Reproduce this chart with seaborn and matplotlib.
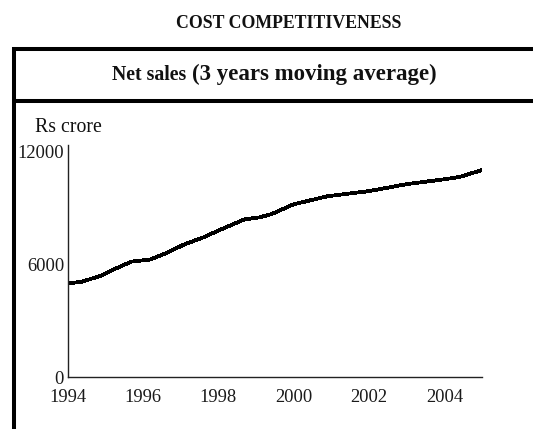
import matplotlib
matplotlib.use('Agg')
import matplotlib.pyplot as plt
import seaborn as sns
from matplotlib.lines import Line2D

# Net sales, 3 years moving average (Rs crore)
years = [1994.0, 1994.4, 1994.9, 1995.1, 1995.7, 1996.2, 1996.6, 1997.1,
         1997.6, 1998.2, 1998.7, 1999.1, 1999.4, 2000.0, 2000.9, 2002.0,
         2003.0, 2004.0, 2004.4, 2005.0]
net_sales = [4960, 5070, 5390, 5600, 6130, 6240, 6560, 7040,
             7410, 7950, 8370, 8480, 8640, 9170, 9600, 9870,
             10240, 10500, 10620, 10990]
x_ticks = [1994, 1996, 1998, 2000, 2002, 2004]
y_ticks = [0, 6000, 12000]

sns.set_style('white')
plt.rcParams['font.family'] = ['Liberation Serif', 'DejaVu Serif']

W, H = 533, 429
fig = plt.figure(figsize=(W / 100, H / 100), dpi=100)

def fx(px):
    return px / W

def fy(py):
    return 1 - py / H

# plot area
ax = fig.add_axes([fx(67.5), fy(377), fx(482) - fx(67.5), fy(145) - fy(377)])
sns.lineplot(x=years, y=net_sales, ax=ax, color='black', linewidth=2.0,
             antialiased=False)
ax.set_xlim(1994, 2005)
ax.set_ylim(0, 12320)
ax.set_xticks(x_ticks)
ax.set_yticks(y_ticks)
ax.set_xlabel('')
ax.set_ylabel('')
for s in ['top', 'right']:
    ax.spines[s].set_visible(False)
for s in ['left', 'bottom']:
    ax.spines[s].set_color('#222222')
    ax.spines[s].set_linewidth(1.0)
ax.tick_params(axis='x', length=0, pad=9, labelsize=13.3, colors='#1a1a1a')
ax.tick_params(axis='y', length=0, pad=2.5, labelsize=13.3, colors='#1a1a1a')

# box around the panel
lw = 2.9
fig.add_artist(Line2D([fx(14), fx(14)], [fy(47), fy(429)], color='black',
                      lw=lw, transform=fig.transFigure, solid_capstyle='butt'))
fig.add_artist(Line2D([fx(12), fx(533)], [fy(49), fy(49)], color='black',
                      lw=lw, transform=fig.transFigure, solid_capstyle='butt'))
fig.add_artist(Line2D([fx(12), fx(533)], [fy(100.5), fy(100.5)], color='black',
                      lw=lw, transform=fig.transFigure, solid_capstyle='butt'))

# texts
fig.text(fx(289), fy(28.5), 'COST COMPETITIVENESS', ha='center', va='baseline',
         fontsize=12.8, fontweight='bold', color='#111111')
fig.text(fx(186), fy(80), 'Net sales', ha='right', va='baseline',
         fontsize=14.3, fontweight='bold', color='#111111')
fig.text(fx(192), fy(80), '(3 years moving average)', ha='left', va='baseline',
         fontsize=16.5, fontweight='bold', color='#111111')
fig.text(fx(35), fy(131.5), 'Rs crore', ha='left', va='baseline',
         fontsize=14.3, color='#111111')

fig.savefig('out.png', dpi=100)
